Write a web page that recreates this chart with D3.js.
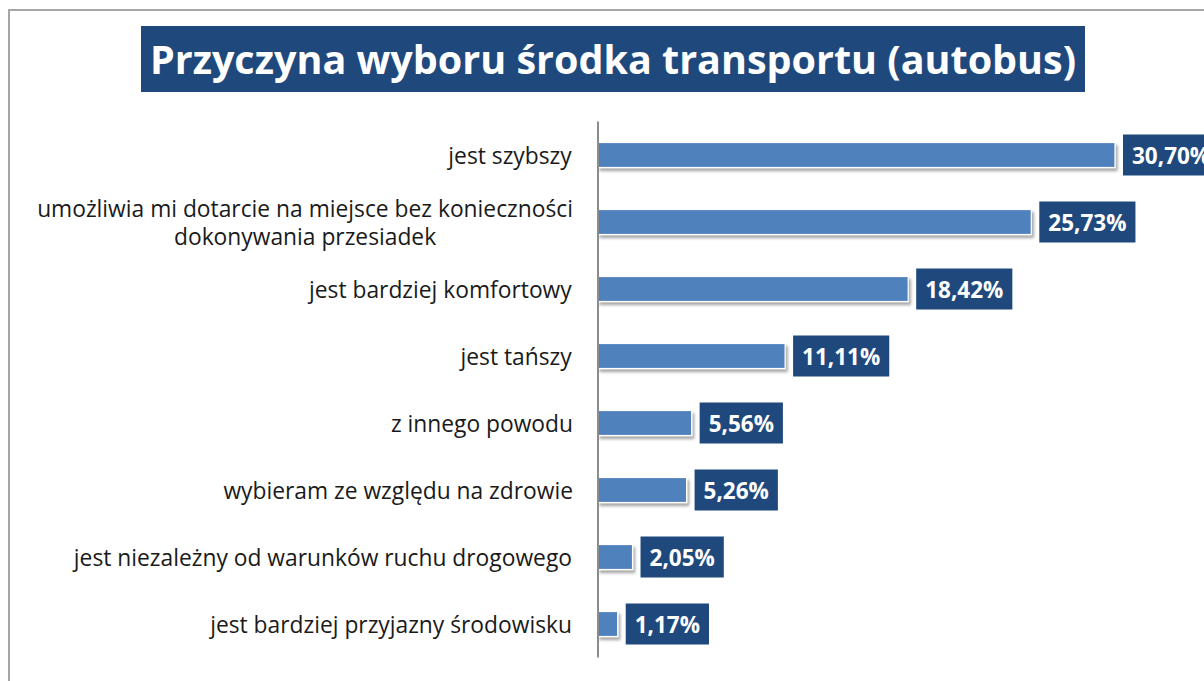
<!DOCTYPE html>
<html><head><meta charset="utf-8">
<script src="https://cdn.jsdelivr.net/npm/d3@7"></script>
<style>
html,body{margin:0;padding:0;background:#fff;}
svg{display:block;}
</style></head>
<body>
<script>
const titleText = "Przyczyna wyboru środka transportu (autobus)";
const categories = [
  ["jest szybszy"],
  ["umożliwia mi dotarcie na miejsce bez konieczności", "dokonywania przesiadek"],
  ["jest bardziej komfortowy"],
  ["jest tańszy"],
  ["z innego powodu"],
  ["wybieram ze względu na zdrowie"],
  ["jest niezależny od warunków ruchu drogowego"],
  ["jest bardziej przyjazny środowisku"]
];
const values = [30.70, 25.73, 18.42, 11.11, 5.56, 5.26, 2.05, 1.17];
const valueLabels = ["30,70%", "25,73%", "18,42%", "11,11%", "5,56%", "5,26%", "2,05%", "1,17%"];

const W = 1204, H = 681;
const FONT = "'Open Sans', sans-serif";
const svg = d3.select("body").append("svg").attr("width", W).attr("height", H);

const defs = svg.append("defs");
const f = defs.append("filter").attr("id","sh").attr("x","-10%").attr("y","-30%").attr("width","130%").attr("height","190%");
f.append("feDropShadow").attr("dx",2).attr("dy",3).attr("stdDeviation",1.8).attr("flood-color","#000").attr("flood-opacity",0.35);

// outer border
svg.append("path").attr("d", `M9,${H+2} L9,10 L${W+2},10`).attr("fill","none").attr("stroke","#a6a6a6").attr("stroke-width",2);

// title
const tg = svg.append("g");
tg.append("rect").attr("fill","#1f497d").attr("x", 141).attr("y", 26).attr("width", 944).attr("height", 66);
tg.append("text").attr("x", 613).attr("y", 59).attr("text-anchor","middle")
  .attr("dominant-baseline","central").attr("fill","#fff")
  .style("font-family", FONT).style("font-weight","bold").style("font-size","39.5px").text(titleText);

const x = d3.scaleLinear().domain([0, 35]).range([598, 598 + 16.84*35]);
const y = d3.scaleBand().domain(d3.range(values.length)).range([121.5, 657.5]).paddingInner(0.627).paddingOuter(0.3135);

// bars
svg.append("g").selectAll("rect").data(values).join("rect")
  .attr("x", x(0)).attr("y", (d,i)=>y(i)).attr("width", d=>x(d)-x(0)).attr("height", y.bandwidth())
  .attr("fill","#4f81bd").attr("stroke","#fff").attr("stroke-width",1.2).attr("filter","url(#sh)");

// axis line
svg.append("g").attr("transform", `translate(${x(0)},0)`)
  .call(d3.axisLeft(y).tickSize(0).tickFormat(""))
  .call(g=>g.select(".domain").attr("stroke","#8c8c8c").attr("stroke-width",2).attr("d", `M0,121.5V657.5`));

// category labels
const lab = svg.append("g").style("font-family", FONT).style("font-size","22.8px").attr("fill","#1a1a1a");
categories.forEach((lines,i)=>{
  const cy = y(i) + y.bandwidth()/2;
  const t = lab.append("text").attr("text-anchor","middle");
  const lh = 28;
  lines.forEach((ln,j)=>{
    t.append("tspan").attr("x", 0).attr("y", cy + (j - (lines.length-1)/2)*lh).attr("dominant-baseline","central").text(ln);
  });
  const bw = t.node().getBBox().width;
  t.selectAll("tspan").attr("x", 573 - bw/2);
});

// value labels
const vl = svg.append("g");
values.forEach((v,i)=>{
  const cy = y(i) + y.bandwidth()/2;
  const g = vl.append("g");
  const r = g.append("rect").attr("fill","#1f497d");
  const t = g.append("text").attr("fill","#fff").attr("dominant-baseline","central")
    .style("font-family", FONT).style("font-weight","bold").style("font-size","22.5px")
    .attr("x", x(v) + 8 + 9).attr("y", cy).text(valueLabels[i]);
  const w = t.node().getComputedTextLength();
  r.attr("x", x(v) + 8).attr("y", cy - 20.5).attr("width", w + 18).attr("height", 41);
});
</script>
</body></html>
